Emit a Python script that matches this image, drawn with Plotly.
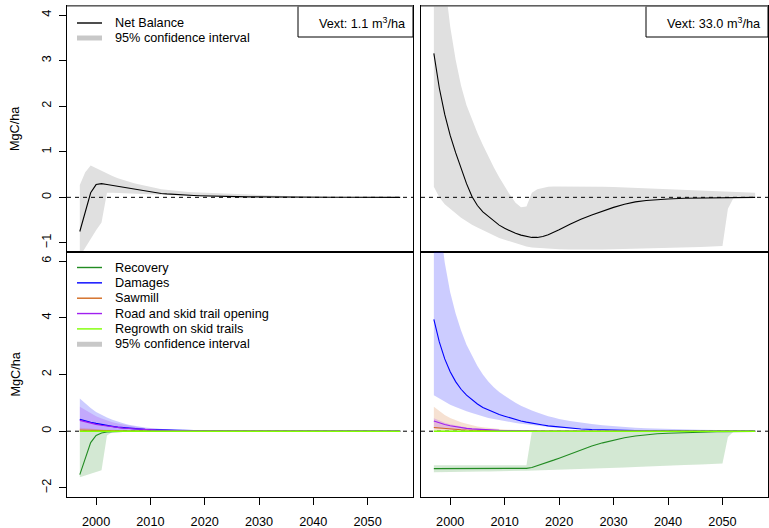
import plotly.graph_objects as go

# ---------------- data ----------------
YEARS = [1997, 1998, 1999, 2000, 2001, 2002, 2003, 2004, 2005, 2006, 2007, 2008,
         2009, 2010, 2011, 2012, 2013, 2014, 2015, 2016, 2017, 2018, 2019, 2020,
         2022, 2024, 2026, 2028, 2030, 2032, 2034, 2036, 2038, 2040, 2043, 2046,
         2049, 2050, 2051, 2052, 2054, 2056]

# Net balance, Vext 1.1 m3/ha
NB1 = [-0.75, -0.33, 0.10, 0.28, 0.30, 0.28, 0.26, 0.24, 0.21, 0.19, 0.17, 0.15,
       0.13, 0.11, 0.10, 0.085, 0.075, 0.065, 0.058, 0.05, 0.045, 0.04, 0.035, 0.03,
       0.024, 0.019, 0.015, 0.011, 0.008, 0.006, 0.005, 0.004, 0.003, 0.002, 0.002, 0.001,
       0.001, 0.001, 0.001, 0.0, 0.0, 0.0]
NB1_HI = [0.27, 0.55, 0.70, 0.64, 0.58, 0.52, 0.47, 0.42, 0.38, 0.35, 0.31, 0.28,
          0.25, 0.23, 0.205, 0.18, 0.165, 0.15, 0.135, 0.12, 0.115, 0.11, 0.105, 0.10,
          0.085, 0.07, 0.06, 0.05, 0.04, 0.033, 0.028, 0.023, 0.019, 0.015, 0.012, 0.01,
          0.007, 0.006, 0.005, 0.004, 0.002, 0.0]
NB1_LO = [-1.3, -1.1, -0.9, -0.72, -0.55, 0.10, 0.10, 0.095, 0.09, 0.085, 0.08, 0.075,
          0.068, 0.06, 0.055, 0.05, 0.045, 0.04, 0.035, 0.032, 0.029, 0.026, 0.023, 0.02,
          0.016, 0.013, 0.011, 0.008, 0.005, 0.004, 0.003, 0.003, 0.002, 0.002, 0.001, 0.001,
          0.0, 0.0, 0.0, 0.0, 0.0, 0.0]

# Net balance, Vext 33.0 m3/ha
NB33 = [3.16, 2.40, 1.82, 1.36, 0.98, 0.63, 0.30, 0.02, -0.18, -0.32, -0.42, -0.52,
        -0.61, -0.68, -0.74, -0.79, -0.83, -0.86, -0.88, -0.88, -0.86, -0.82, -0.77, -0.71,
        -0.59, -0.48, -0.39, -0.30, -0.22, -0.15, -0.10, -0.07, -0.05, -0.035, -0.02, -0.012,
        -0.007, -0.006, -0.005, -0.004, -0.002, 0.0]
NB33_HI = [8.0, 6.0, 4.75, 3.75, 3.02, 2.45, 2.02, 1.70, 1.41, 1.15, 0.90, 0.66,
           0.44, 0.23, 0.05, -0.12, -0.22, -0.20, 0.10, 0.18, 0.21, 0.23, 0.24, 0.24,
           0.245, 0.245, 0.24, 0.235, 0.225, 0.215, 0.20, 0.19, 0.18, 0.165, 0.15, 0.135,
           0.12, 0.115, 0.11, 0.11, 0.105, 0.10]
NB33_LO = [0.23, 0.0, -0.15, -0.26, -0.35, -0.45, -0.53, -0.60, -0.66, -0.72, -0.78, -0.84,
           -0.89, -0.93, -0.97, -1.01, -1.05, -1.08, -1.10, -1.11, -1.12, -1.13, -1.135, -1.14,
           -1.145, -1.15, -1.15, -1.145, -1.14, -1.135, -1.13, -1.125, -1.115, -1.11, -1.10, -1.09,
           -1.075, -1.07, -0.25, -0.02, 0.0, 0.0]

# Components, Vext 1.1 m3/ha
REC1 = [-1.53, -0.95, -0.40, -0.15, -0.06, -0.03, -0.015, -0.008, -0.004, -0.002, -0.001, 0.0,
        0.0, 0.0, 0.0, 0.0, 0.0, 0.0, 0.0, 0.0, 0.0, 0.0, 0.0, 0.0,
        0.0, 0.0, 0.0, 0.0, 0.0, 0.0, 0.0, 0.0, 0.0, 0.0, 0.0, 0.0,
        0.0, 0.0, 0.0, 0.0, 0.0, 0.0]
REC1_HI = [-0.02, -0.02, -0.02, -0.015, -0.01, -0.005, 0.0, 0.0, 0.0, 0.0, 0.0, 0.0,
           0.0, 0.0, 0.0, 0.0, 0.0, 0.0, 0.0, 0.0, 0.0, 0.0, 0.0, 0.0,
           0.0, 0.0, 0.0, 0.0, 0.0, 0.0, 0.0, 0.0, 0.0, 0.0, 0.0, 0.0,
           0.0, 0.0, 0.0, 0.0, 0.0, 0.0]
REC1_LO = [-1.62, -1.56, -1.50, -1.44, -1.38, -0.15, -0.03, -0.01, -0.005, 0.0, 0.0, 0.0,
           0.0, 0.0, 0.0, 0.0, 0.0, 0.0, 0.0, 0.0, 0.0, 0.0, 0.0, 0.0,
           0.0, 0.0, 0.0, 0.0, 0.0, 0.0, 0.0, 0.0, 0.0, 0.0, 0.0, 0.0,
           0.0, 0.0, 0.0, 0.0, 0.0, 0.0]
DAM1 = [0.42, 0.36, 0.31, 0.27, 0.23, 0.20, 0.17, 0.14, 0.12, 0.10, 0.085, 0.07,
        0.06, 0.05, 0.043, 0.036, 0.03, 0.025, 0.021, 0.017, 0.014, 0.012, 0.01, 0.008,
        0.006, 0.004, 0.003, 0.002, 0.0015, 0.001, 0.001, 0.0, 0.0, 0.0, 0.0, 0.0,
        0.0, 0.0, 0.0, 0.0, 0.0, 0.0]
DAM1_HI = [1.15, 0.98, 0.82, 0.68, 0.57, 0.48, 0.40, 0.33, 0.28, 0.23, 0.19, 0.16,
           0.13, 0.11, 0.09, 0.075, 0.063, 0.053, 0.045, 0.038, 0.032, 0.027, 0.023, 0.02,
           0.015, 0.011, 0.008, 0.006, 0.005, 0.004, 0.003, 0.002, 0.002, 0.001, 0.001, 0.0,
           0.0, 0.0, 0.0, 0.0, 0.0, 0.0]
DAM1_LO = [0.05, 0.045, 0.04, 0.035, 0.03, 0.027, 0.024, 0.021, 0.018, 0.016, 0.014, 0.012,
           0.01, 0.009, 0.008, 0.007, 0.006, 0.005, 0.004, 0.004, 0.003, 0.003, 0.002, 0.002,
           0.001, 0.001, 0.0, 0.0, 0.0, 0.0, 0.0, 0.0, 0.0, 0.0, 0.0, 0.0,
           0.0, 0.0, 0.0, 0.0, 0.0, 0.0]
SAW1 = [0.04, 0.034, 0.029, 0.025, 0.021, 0.018, 0.015, 0.013, 0.011, 0.009, 0.008, 0.007,
        0.006, 0.005, 0.004, 0.003, 0.003, 0.002, 0.002, 0.002, 0.001, 0.001, 0.001, 0.001,
        0.0, 0.0, 0.0, 0.0, 0.0, 0.0, 0.0, 0.0, 0.0, 0.0, 0.0, 0.0,
        0.0, 0.0, 0.0, 0.0, 0.0, 0.0]
SAW1_HI = [0.12, 0.10, 0.085, 0.072, 0.06, 0.05, 0.042, 0.035, 0.03, 0.025, 0.021, 0.018,
           0.015, 0.013, 0.011, 0.009, 0.008, 0.007, 0.006, 0.005, 0.004, 0.003, 0.003, 0.002,
           0.002, 0.001, 0.001, 0.0, 0.0, 0.0, 0.0, 0.0, 0.0, 0.0, 0.0, 0.0,
           0.0, 0.0, 0.0, 0.0, 0.0, 0.0]
SAW1_LO = [0.0, 0.0, 0.0, 0.0, 0.0, 0.0, 0.0, 0.0, 0.0, 0.0, 0.0, 0.0,
           0.0, 0.0, 0.0, 0.0, 0.0, 0.0, 0.0, 0.0, 0.0, 0.0, 0.0, 0.0,
           0.0, 0.0, 0.0, 0.0, 0.0, 0.0, 0.0, 0.0, 0.0, 0.0, 0.0, 0.0,
           0.0, 0.0, 0.0, 0.0, 0.0, 0.0]
ROAD1 = [0.38, 0.33, 0.28, 0.24, 0.21, 0.18, 0.155, 0.13, 0.11, 0.095, 0.08, 0.066,
         0.056, 0.047, 0.04, 0.034, 0.028, 0.023, 0.019, 0.016, 0.013, 0.011, 0.009, 0.007,
         0.005, 0.004, 0.003, 0.002, 0.001, 0.001, 0.0, 0.0, 0.0, 0.0, 0.0, 0.0,
         0.0, 0.0, 0.0, 0.0, 0.0, 0.0]
ROAD1_HI = [0.86, 0.74, 0.63, 0.53, 0.45, 0.38, 0.32, 0.27, 0.23, 0.19, 0.16, 0.135,
            0.11, 0.095, 0.08, 0.066, 0.055, 0.046, 0.038, 0.032, 0.027, 0.022, 0.019, 0.016,
            0.011, 0.008, 0.006, 0.004, 0.003, 0.002, 0.002, 0.001, 0.001, 0.0, 0.0, 0.0,
            0.0, 0.0, 0.0, 0.0, 0.0, 0.0]
ROAD1_LO = [0.06, 0.052, 0.045, 0.039, 0.034, 0.03, 0.026, 0.022, 0.019, 0.016, 0.014, 0.012,
            0.01, 0.009, 0.008, 0.007, 0.006, 0.005, 0.004, 0.003, 0.003, 0.002, 0.002, 0.002,
            0.001, 0.001, 0.0, 0.0, 0.0, 0.0, 0.0, 0.0, 0.0, 0.0, 0.0, 0.0,
            0.0, 0.0, 0.0, 0.0, 0.0, 0.0]
REG1 = [0.0, 0.0, 0.0, 0.0, 0.0, 0.0, 0.0, 0.0, 0.0, 0.0, 0.0, 0.0,
        0.0, 0.0, 0.0, 0.0, 0.0, 0.0, 0.0, 0.0, 0.0, 0.0, 0.0, 0.0,
        0.0, 0.0, 0.0, 0.0, 0.0, 0.0, 0.0, 0.0, 0.0, 0.0, 0.0, 0.0,
        0.0, 0.0, 0.0, 0.0, 0.0, 0.0]

# Components, Vext 33.0 m3/ha
REC33 = [-1.32, -1.32, -1.32, -1.32, -1.32, -1.32, -1.32, -1.32, -1.32, -1.32, -1.32, -1.32,
         -1.32, -1.32, -1.32, -1.32, -1.32, -1.31, -1.28, -1.22, -1.16, -1.09, -1.02, -0.95,
         -0.80, -0.65, -0.52, -0.41, -0.31, -0.23, -0.17, -0.12, -0.09, -0.07, -0.045, -0.03,
         -0.018, -0.015, -0.013, -0.011, -0.007, -0.004]
REC33_HI = [-1.20, -1.20, -1.20, -1.20, -1.20, -1.20, -1.20, -1.20, -1.20, -1.20, -1.20, -1.20,
            -1.20, -1.20, -1.20, -1.20, -1.20, -1.20, -0.01, -0.005, 0.0, 0.0, 0.0, 0.0,
            0.0, 0.0, 0.0, 0.0, 0.0, 0.0, 0.0, 0.0, 0.0, 0.0, 0.0, 0.0,
            0.0, 0.0, 0.0, 0.0, 0.0, 0.0]
REC33_LO = [-1.45, -1.45, -1.45, -1.445, -1.44, -1.44, -1.435, -1.43, -1.43, -1.425, -1.42, -1.42,
            -1.415, -1.41, -1.405, -1.40, -1.395, -1.39, -1.385, -1.38, -1.375, -1.37, -1.365, -1.36,
            -1.35, -1.34, -1.32, -1.31, -1.29, -1.28, -1.26, -1.25, -1.23, -1.21, -1.19, -1.17,
            -1.15, -1.14, -0.20, -0.02, -0.008, -0.004]
DAM33 = [3.94, 3.15, 2.55, 2.10, 1.75, 1.48, 1.27, 1.10, 0.96, 0.84, 0.75, 0.67,
         0.59, 0.53, 0.47, 0.41, 0.36, 0.32, 0.28, 0.25, 0.22, 0.19, 0.17, 0.15,
         0.11, 0.08, 0.06, 0.045, 0.035, 0.028, 0.022, 0.018, 0.014, 0.011, 0.008, 0.006,
         0.004, 0.003, 0.003, 0.003, 0.002, 0.002]
DAM33_HI = [8.5, 7.5, 5.95, 4.9, 4.15, 3.55, 3.05, 2.65, 2.30, 2.00, 1.75, 1.55,
            1.38, 1.25, 1.12, 1.00, 0.90, 0.81, 0.73, 0.66, 0.59, 0.53, 0.48, 0.43,
            0.36, 0.30, 0.25, 0.21, 0.175, 0.15, 0.125, 0.105, 0.09, 0.075, 0.06, 0.05,
            0.04, 0.038, 0.036, 0.035, 0.032, 0.03]
DAM33_LO = [1.27, 1.15, 1.03, 0.93, 0.85, 0.77, 0.70, 0.64, 0.58, 0.52, 0.47, 0.43,
            0.39, 0.35, 0.32, 0.29, 0.265, 0.24, 0.215, 0.19, 0.17, 0.15, 0.135, 0.12,
            0.095, 0.075, 0.058, 0.045, 0.035, 0.027, 0.021, 0.016, 0.012, 0.009, 0.006, 0.004,
            0.003, 0.002, 0.002, 0.002, 0.001, 0.001]
SAW33 = [0.13, 0.11, 0.09, 0.075, 0.062, 0.052, 0.043, 0.036, 0.03, 0.025, 0.02, 0.017,
         0.014, 0.012, 0.01, 0.008, 0.007, 0.006, 0.005, 0.004, 0.003, 0.003, 0.002, 0.002,
         0.001, 0.001, 0.0, 0.0, 0.0, 0.0, 0.0, 0.0, 0.0, 0.0, 0.0, 0.0,
         0.0, 0.0, 0.0, 0.0, 0.0, 0.0]
SAW33_HI = [0.86, 0.70, 0.57, 0.47, 0.39, 0.32, 0.26, 0.21, 0.17, 0.14, 0.115, 0.095,
            0.078, 0.064, 0.052, 0.043, 0.035, 0.029, 0.024, 0.02, 0.016, 0.013, 0.011, 0.009,
            0.006, 0.004, 0.003, 0.002, 0.001, 0.0, 0.0, 0.0, 0.0, 0.0, 0.0, 0.0,
            0.0, 0.0, 0.0, 0.0, 0.0, 0.0]
SAW33_LO = [0.0, 0.0, 0.0, 0.0, 0.0, 0.0, 0.0, 0.0, 0.0, 0.0, 0.0, 0.0,
            0.0, 0.0, 0.0, 0.0, 0.0, 0.0, 0.0, 0.0, 0.0, 0.0, 0.0, 0.0,
            0.0, 0.0, 0.0, 0.0, 0.0, 0.0, 0.0, 0.0, 0.0, 0.0, 0.0, 0.0,
            0.0, 0.0, 0.0, 0.0, 0.0, 0.0]
ROAD33 = [0.36, 0.29, 0.24, 0.19, 0.155, 0.125, 0.10, 0.082, 0.067, 0.055, 0.045, 0.037,
          0.03, 0.025, 0.02, 0.016, 0.013, 0.011, 0.009, 0.007, 0.006, 0.005, 0.004, 0.003,
          0.002, 0.001, 0.0, 0.0, 0.0, 0.0, 0.0, 0.0, 0.0, 0.0, 0.0, 0.0,
          0.0, 0.0, 0.0, 0.0, 0.0, 0.0]
ROAD33_HI = [0.46, 0.37, 0.30, 0.245, 0.20, 0.16, 0.13, 0.105, 0.085, 0.07, 0.057, 0.047,
             0.038, 0.031, 0.025, 0.02, 0.016, 0.013, 0.011, 0.009, 0.007, 0.006, 0.005, 0.004,
             0.003, 0.002, 0.001, 0.0, 0.0, 0.0, 0.0, 0.0, 0.0, 0.0, 0.0, 0.0,
             0.0, 0.0, 0.0, 0.0, 0.0, 0.0]
ROAD33_LO = [0.10, 0.08, 0.065, 0.053, 0.043, 0.035, 0.028, 0.023, 0.019, 0.015, 0.012, 0.01,
             0.008, 0.007, 0.006, 0.005, 0.004, 0.003, 0.003, 0.002, 0.002, 0.001, 0.001, 0.001,
             0.0, 0.0, 0.0, 0.0, 0.0, 0.0, 0.0, 0.0, 0.0, 0.0, 0.0, 0.0,
             0.0, 0.0, 0.0, 0.0, 0.0, 0.0]
REG33 = [0.0, 0.0, 0.0, 0.0, 0.0, 0.0, 0.0, 0.0, 0.0, 0.0, 0.0, 0.0,
         0.0, 0.0, 0.0, 0.0, 0.0, 0.0, 0.0, 0.0, 0.0, 0.0, 0.0, 0.0,
         0.0, 0.0, 0.0, 0.0, 0.0, 0.0, 0.0, 0.0, 0.0, 0.0, 0.0, 0.0,
         0.0, 0.0, 0.0, 0.0, 0.0, 0.0]

X_TICKS = [2000, 2010, 2020, 2030, 2040, 2050]
Y_TICKS_TOP = [-1, 0, 1, 2, 3, 4]
Y_TICKS_BOT = [-2, 0, 2, 4, 6]
X_RANGE = [1994.64, 2058.36]
Y_RANGE_TOP = [-1.2, 4.2]
Y_RANGE_BOT = [-2.32, 6.32]
VEXT_LABELS = ["Vext: 1.1 m<sup>3</sup>/ha", "Vext: 33.0 m<sup>3</sup>/ha"]
TOP_LEGEND = ["Net Balance", "95% confidence interval"]
BOT_LEGEND = ["Recovery", "Damages", "Sawmill", "Road and skid trail opening",
              "Regrowth on skid trails", "95% confidence interval"]

# ---------------- style ----------------
W, H = 769, 528
FONT = "Liberation Sans, Arial, Helvetica, sans-serif"
FS = 12.7
C_REC = "#228B22"
C_DAM = "#0000FF"
C_SAW = "#D2691E"
C_ROAD = "#A020F0"
C_REG = "#7FFF00"
F_GRAY = "rgb(224,224,224)"
F_REC = "rgba(34,139,34,0.2)"
F_DAM = "rgba(0,0,255,0.2)"
F_SAW = "rgba(210,105,30,0.2)"
F_ROAD = "rgba(160,32,240,0.2)"

def px(v):
    return v / W

def py(v):
    return 1 - v / H

fig = go.Figure()

def band(xa, ya, lo, hi, color):
    fig.add_trace(go.Scatter(x=YEARS, y=lo, xaxis=xa, yaxis=ya, mode="lines",
                             line=dict(width=0, color=color), showlegend=False,
                             hoverinfo="skip"))
    fig.add_trace(go.Scatter(x=YEARS, y=hi, xaxis=xa, yaxis=ya, mode="lines",
                             line=dict(width=0, color=color), fill="tonexty",
                             fillcolor=color, showlegend=False, hoverinfo="skip"))

def line(xa, ya, y, color, width=1.1):
    fig.add_trace(go.Scatter(x=YEARS, y=y, xaxis=xa, yaxis=ya, mode="lines",
                             line=dict(width=width, color=color), showlegend=False,
                             hoverinfo="skip"))

def zero(xa, ya):
    fig.add_trace(go.Scatter(x=X_RANGE, y=[0, 0], xaxis=xa, yaxis=ya, mode="lines",
                             line=dict(width=1, color="black", dash="4px,4px"),
                             showlegend=False, hoverinfo="skip"))

# top-left
band("x", "y", NB1_LO, NB1_HI, F_GRAY)
zero("x", "y")
line("x", "y", NB1, "black")
# top-right
band("x2", "y2", NB33_LO, NB33_HI, F_GRAY)
zero("x2", "y2")
line("x2", "y2", NB33, "black")
# bottom-left
band("x3", "y3", DAM1_LO, DAM1_HI, F_DAM)
band("x3", "y3", SAW1_LO, SAW1_HI, F_SAW)
band("x3", "y3", ROAD1_LO, ROAD1_HI, F_ROAD)
band("x3", "y3", REC1_LO, REC1_HI, F_REC)
zero("x3", "y3")
line("x3", "y3", REC1, C_REC)
line("x3", "y3", DAM1, C_DAM, 1.4)
line("x3", "y3", SAW1, C_SAW)
line("x3", "y3", ROAD1, C_ROAD, 1.2)
line("x3", "y3", REG1, C_REG, 1.4)
# bottom-right
band("x4", "y4", DAM33_LO, DAM33_HI, F_DAM)
band("x4", "y4", SAW33_LO, SAW33_HI, F_SAW)
band("x4", "y4", ROAD33_LO, ROAD33_HI, F_ROAD)
band("x4", "y4", REC33_LO, REC33_HI, F_REC)
zero("x4", "y4")
line("x4", "y4", REC33, C_REC)
line("x4", "y4", DAM33, C_DAM)
line("x4", "y4", SAW33, C_SAW)
line("x4", "y4", ROAD33, C_ROAD)
line("x4", "y4", REG33, C_REG, 1.4)

LEFT = [px(67), px(413)]
RIGHT = [px(421), px(768)]
TOP = [py(252), py(6)]
BOT = [py(497), py(252)]

base_ax = dict(showgrid=False, zeroline=False, showline=True, mirror=True,
               linecolor="black", linewidth=1,
               tickfont=dict(family=FONT, size=FS, color="black"))

def xax(domain, anchor, labels):
    d = dict(base_ax, domain=domain, anchor=anchor, range=X_RANGE)
    if labels:
        d.update(tickmode="array", tickvals=X_TICKS, ticks="outside", ticklen=7,
                 tickcolor="black", ticklabelstandoff=6)
    else:
        d.update(showticklabels=False, ticks="")
    return d

def yax(domain, anchor, rng, tv, labels):
    d = dict(base_ax, domain=domain, anchor=anchor, range=rng)
    if labels:
        d.update(tickmode="array", tickvals=tv, ticks="outside", ticklen=7,
                 tickcolor="black", tickangle=-90, ticklabelstandoff=3)
    else:
        d.update(showticklabels=False, ticks="")
    return d

fig.update_layout(
    width=W, height=H, autosize=False,
    margin=dict(l=0, r=0, t=0, b=0),
    paper_bgcolor="white", plot_bgcolor="white",
    font=dict(family=FONT, size=FS, color="black"),
    xaxis=xax(LEFT, "y", False),
    yaxis=yax(TOP, "x", Y_RANGE_TOP, Y_TICKS_TOP, True),
    xaxis2=xax(RIGHT, "y2", False),
    yaxis2=yax(TOP, "x2", Y_RANGE_TOP, Y_TICKS_TOP, False),
    xaxis3=xax(LEFT, "y3", True),
    yaxis3=yax(BOT, "x3", Y_RANGE_BOT, Y_TICKS_BOT, True),
    xaxis4=xax(RIGHT, "y4", True),
    yaxis4=yax(BOT, "x4", Y_RANGE_BOT, Y_TICKS_BOT, False),
)

shapes = []
annotations = []

# y-axis titles
for yc in [(6 + 252) / 2, (252 + 497) / 2]:
    annotations.append(dict(x=px(15), y=py(yc), xref="paper", yref="paper",
                            text="MgC/ha", textangle=-90, showarrow=False,
                            font=dict(family=FONT, size=FS, color="black"),
                            xanchor="center", yanchor="middle"))

# Vext boxes
for (x0, x1, tx), lab in zip([(298, 413, 408), (646, 768, 763)], VEXT_LABELS):
    shapes.append(dict(type="rect", xref="paper", yref="paper",
                       x0=px(x0), x1=px(x1), y0=py(37), y1=py(6),
                       line=dict(color="black", width=1), fillcolor="white", layer="above"))
    annotations.append(dict(x=px(tx), y=py(23), xref="paper", yref="paper", text=lab,
                            showarrow=False, xanchor="right", yanchor="middle",
                            font=dict(family=FONT, size=FS, color="black")))

# legends
def legend_row(yy, color, width, text):
    shapes.append(dict(type="line", xref="paper", yref="paper",
                       x0=px(77), x1=px(102), y0=py(yy), y1=py(yy),
                       line=dict(color=color, width=width), layer="above"))
    annotations.append(dict(x=px(113), y=py(yy), xref="paper", yref="paper", text=text,
                            showarrow=False, xanchor="left", yanchor="middle",
                            font=dict(family=FONT, size=FS, color="black")))

legend_row(23, "black", 1.4, TOP_LEGEND[0])
legend_row(38, "#C8C8C8", 5, TOP_LEGEND[1])
bot_colors = [C_REC, C_DAM, C_SAW, C_ROAD, C_REG, "#C8C8C8"]
for i, (c, t) in enumerate(zip(bot_colors, BOT_LEGEND)):
    legend_row(267.5 + i * 15.35, c, 5 if i == 5 else 1.4, t)

# top border slightly gray (as in reference)
for x0, x1 in [(67, 413), (421, 768)]:
    shapes.append(dict(type="line", xref="paper", yref="paper", x0=px(x0), x1=px(x1),
                       y0=py(6), y1=py(6), line=dict(color="#808080", width=1.5),
                       layer="above"))

fig.update_layout(shapes=shapes, annotations=annotations)
fig.write_html("out.html",
               config={"displayModeBar": False, "staticPlot": True},
               post_script="document.body.style.margin='0px';"
                           "document.body.style.overflow='hidden';")
